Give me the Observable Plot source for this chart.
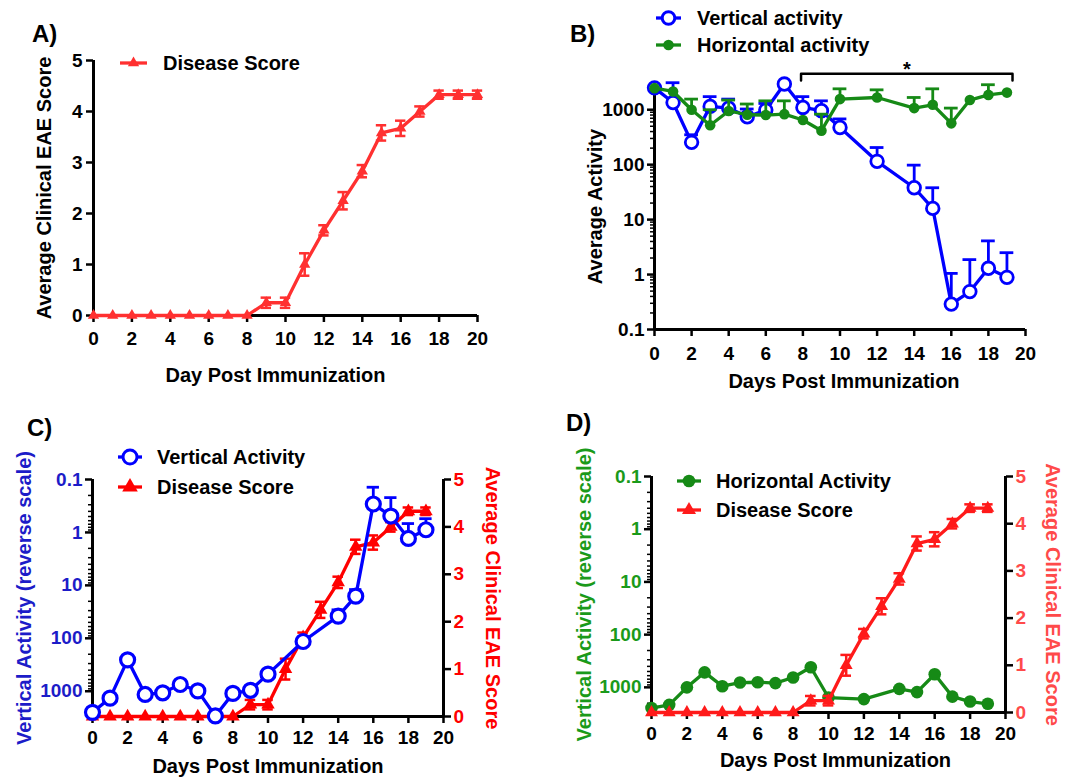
<!DOCTYPE html>
<html><head><meta charset="utf-8">
<script src="https://cdn.jsdelivr.net/npm/d3@7"></script>
<script src="https://cdn.jsdelivr.net/npm/@observablehq/plot@0.6"></script>
<style>
body{margin:0;background:#fff;}
#root{position:relative;width:1077px;height:778px;overflow:hidden;background:#fff;}
</style></head><body><div id="root"></div>
<script>
// ---------- data ----------
const scoreDays    = [0,1,2,3,4,5,6,7,8,9,10,11,12,13,14,15,16,17,18,19,20];
const diseaseScore = [0,0,0,0,0,0,0,0,0,0.25,0.25,1.0,1.67,2.25,2.83,3.58,3.67,4.0,4.33,4.33,4.33];
const diseaseSEM   = [0,0,0,0,0,0,0,0,0,0.1,0.1,0.22,0.1,0.17,0.12,0.15,0.15,0.1,0.08,0.08,0.08];

const actDays            = [0,1,2,3,4,5,6,7,8,9,10,12,14,15,16,17,18,19];
const verticalActivity   = [2500,1350,255,1150,1070,745,985,2930,1100,960,475,115,38,16,0.29,0.49,1.3,0.89];
const verticalErrTop     = [null,3100,350,1730,1560,1030,1300,null,1730,1450,680,205,98,38,1.05,1.87,4.1,2.5];
const verticalErrRev     = [null,null,null,null,null,null,null,null,null,null,null,null,29,12,0.14,0.22,0.68,0.55];
const horizontalActivity = [2470,2150,1000,520,950,810,800,830,650,415,1560,1670,1070,1230,565,1500,1860,2050];
const horizontalErrTop   = [null,null,1560,1000,1500,1270,1450,1450,null,830,2400,2300,1670,2400,1070,null,2850,null];

const xTicks     = [0,2,4,6,8,10,12,14,16,18,20];
const scoreTicks = [0,1,2,3,4,5];
const logTicks   = [0.1,1,10,100,1000];
const logMinor   = logTicks.flatMap(t => [2,3,4,5,6,7,8,9].map(k => +(t*k).toPrecision(3))).filter(v => v <= 3000);
const sigBracket = {start: 7.9, end: 19.3, top: 4500, drop: 3400, star: 5400, label: "*"};

// ---------- styles ----------
const FONT = '"Liberation Sans", Arial, Helvetica, sans-serif';
const RED_A = "#ff3030", RED = "#ff0000", RED_D = "#ff1a1a", RED_TXT_D = "#ff4a4a";
const BLUE = "#0000ff", BLUE_TXT = "#1c1cc8", GREEN = "#168a16", GREEN_TXT = "#1a9a1a";
const LW = 3.3;
const baseStyle = {fontFamily: FONT, fontWeight: "bold", fontSize: "19px", background: "none", overflow: "visible", color: "#000"};
const fmt = d => String(d);

const scoreRows = scoreDays.map((d, i) => ({day: d, v: diseaseScore[i], e: diseaseSEM[i]}));
const scoreRows19 = scoreRows.filter(d => d.day <= 19);
const actRows = actDays.map((d, i) => ({day: d, vert: verticalActivity[i], vTop: verticalErrTop[i], vRev: verticalErrRev[i],
  hor: horizontalActivity[i], hTop: horizontalErrTop[i]}));

const root = document.getElementById("root");
function place(node, left, top) {
  node.style.position = "absolute"; node.style.left = left + "px"; node.style.top = top + "px";
  root.appendChild(node);
}
function vTitle(text, side, dx, fill = "#000") {
  return Plot.text([text], {text: d => d, frameAnchor: side, dx, rotate: side === "left" ? -90 : 90,
    textAnchor: "middle", lineAnchor: "middle", fontSize: 20, fill});
}
function xTitle(text, dy, dx = 0) {
  return Plot.text([text], {text: d => d, frameAnchor: "bottom", dy, dx, textAnchor: "middle", lineAnchor: "middle", fontSize: 20});
}

function scoreMarks(rows, color, r, cap) {
  const err = rows.filter(d => d.e > 0);
  return [
    Plot.line(rows, {x: "day", y: "v", stroke: color, strokeWidth: LW}),
    Plot.ruleX(err, {x: "day", y1: d => d.v - d.e, y2: d => d.v + d.e, stroke: color, strokeWidth: 2.5}),
    Plot.ruleY(err, {y: d => d.v - d.e, x1: d => d.day - cap, x2: d => d.day + cap, stroke: color, strokeWidth: 2.5}),
    Plot.ruleY(err, {y: d => d.v + d.e, x1: d => d.day - cap, x2: d => d.day + cap, stroke: color, strokeWidth: 2.5}),
    Plot.dot(rows, {x: "day", y: "v", symbol: "triangle", r, fill: color, stroke: null})
  ];
}

// ---------- Panel A ----------
place(Plot.plot({
  width: 540, height: 390, marginLeft: 93, marginRight: 63, marginTop: 60, marginBottom: 75,
  style: baseStyle,
  x: {domain: [0, 20]}, y: {domain: [0, 5]},
  marks: [
    Plot.axisX({ticks: xTicks, tickFormat: fmt, tickSize: 7, tickPadding: 9, strokeWidth: 2.5, fontSize: 19, label: null}),
    Plot.axisY({ticks: scoreTicks, tickFormat: fmt, tickSize: 7, tickPadding: 4, strokeWidth: 2.5, fontSize: 19, label: null}),
    Plot.ruleX([0], {strokeWidth: 3}),
    Plot.ruleY([0], {strokeWidth: 3}),
    ...scoreMarks(scoreRows, RED_A, 4.2, 0.27),
    vTitle("Average Clinical EAE Score", "left", -49),
    xTitle("Day Post Immunization", 60, -10)
  ]
}), 0, 0);

// ---------- Panel B ----------
place(Plot.plot({
  width: 537, height: 390, marginLeft: 114, marginRight: 52, marginTop: 83, marginBottom: 61,
  style: baseStyle,
  x: {domain: [0, 20]}, y: {type: "log", domain: [0.1, 3000]},
  marks: [
    Plot.axisX({ticks: xTicks, tickFormat: fmt, tickSize: 7, tickPadding: 10, strokeWidth: 2.5, fontSize: 19, label: null}),
    Plot.axisY({ticks: logTicks, tickFormat: fmt, tickSize: 7, tickPadding: 3, strokeWidth: 2.5, fontSize: 19, label: null}),
    Plot.axisY({ticks: logMinor, tickFormat: () => "", tickSize: 4, strokeWidth: 1.5, label: null}),
    Plot.ruleX([0], {strokeWidth: 3}),
    Plot.ruleY([0.1], {strokeWidth: 3}),
    Plot.line([[sigBracket.start, sigBracket.drop], [sigBracket.start, sigBracket.top], [sigBracket.end, sigBracket.top], [sigBracket.end, sigBracket.drop]],
      {stroke: "#000", strokeWidth: 2.5}),
    Plot.text([sigBracket], {x: d => (d.start + d.end) / 2, y: "star", text: "label", fontSize: 20}),
    // vertical (blue)
    Plot.line(actRows, {x: "day", y: "vert", stroke: BLUE, strokeWidth: LW}),
    Plot.ruleX(actRows.filter(d => d.vTop), {x: "day", y1: "vert", y2: "vTop", stroke: BLUE, strokeWidth: 2.8}),
    Plot.ruleY(actRows.filter(d => d.vTop), {y: "vTop", x1: d => d.day - 0.37, x2: d => d.day + 0.37, stroke: BLUE, strokeWidth: 2.8}),
    Plot.dot(actRows, {x: "day", y: "vert", r: 6.3, fill: "white", stroke: BLUE, strokeWidth: 2.8}),
    // horizontal (green)
    Plot.line(actRows, {x: "day", y: "hor", stroke: GREEN, strokeWidth: LW}),
    Plot.ruleX(actRows.filter(d => d.hTop), {x: "day", y1: "hor", y2: "hTop", stroke: GREEN, strokeWidth: 2.8}),
    Plot.ruleY(actRows.filter(d => d.hTop), {y: "hTop", x1: d => d.day - 0.37, x2: d => d.day + 0.37, stroke: GREEN, strokeWidth: 2.8}),
    Plot.dot(actRows, {x: "day", y: "hor", r: 5.3, fill: GREEN, stroke: null}),
    vTitle("Average Activity", "left", -59),
    xTitle("Days Post Immunization", 52, 4)
  ]
}), 540, 0);

// ---------- Panel C (two overlaid layers) ----------
const C = {width: 540, height: 388, marginLeft: 92, marginRight: 97, marginTop: 89, marginBottom: 62};
place(Plot.plot({
  ...C, style: baseStyle,
  x: {domain: [0, 20]}, y: {domain: [0, 5]},
  marks: [
    Plot.axisX({ticks: xTicks, tickFormat: fmt, tickSize: 7, tickPadding: 7, strokeWidth: 2.5, fontSize: 19, label: null}),
    Plot.axisY({anchor: "right", ticks: scoreTicks, tickFormat: fmt, tickSize: 7, tickPadding: 3, strokeWidth: 2.5, fontSize: 19, fill: RED, stroke: "#000", label: null}),
    Plot.ruleX([20], {strokeWidth: 3}),
    Plot.ruleY([0], {strokeWidth: 3}),
    ...scoreMarks(scoreRows19, RED, 5, 0.3),
    vTitle("Average Clinical EAE Score", "right", 49, RED),
    xTitle("Days Post Immunization", 50)
  ]
}), 0, 390);
place(Plot.plot({
  ...C, style: baseStyle,
  x: {domain: [0, 20], axis: null}, y: {type: "log", domain: [0.1, 3000], reverse: true},
  marks: [
    Plot.axisY({ticks: logTicks, tickFormat: fmt, tickSize: 7, tickPadding: 3, strokeWidth: 2.5, fontSize: 19, fill: BLUE_TXT, stroke: "#000", label: null}),
    Plot.axisY({ticks: logMinor, tickFormat: () => "", tickSize: 4, strokeWidth: 1.5, label: null}),
    Plot.ruleX([0], {strokeWidth: 3}),
    Plot.line(actRows, {x: "day", y: "vert", stroke: BLUE, strokeWidth: LW}),
    Plot.ruleX(actRows.filter(d => d.vRev), {x: "day", y1: "vert", y2: "vRev", stroke: BLUE, strokeWidth: 2.8}),
    Plot.ruleY(actRows.filter(d => d.vRev), {y: "vRev", x1: d => d.day - 0.35, x2: d => d.day + 0.35, stroke: BLUE, strokeWidth: 2.8}),
    Plot.dot(actRows, {x: "day", y: "vert", r: 7, fill: "white", stroke: BLUE, strokeWidth: 3.2}),
    vTitle("Vertical Activity (reverse scale)", "left", -68, BLUE_TXT)
  ]
}), 0, 390);

// ---------- Panel D (two overlaid layers) ----------
const D = {width: 537, height: 388, marginLeft: 111, marginRight: 72, marginTop: 86, marginBottom: 66};
place(Plot.plot({
  ...D, style: baseStyle,
  x: {domain: [0, 20]}, y: {type: "log", domain: [0.1, 3000], reverse: true},
  marks: [
    Plot.axisX({ticks: xTicks, tickFormat: fmt, tickSize: 7, tickPadding: 7, strokeWidth: 2.5, fontSize: 19, label: null}),
    Plot.axisY({ticks: logTicks, tickFormat: fmt, tickSize: 7, tickPadding: 3, strokeWidth: 2.5, fontSize: 19, fill: GREEN_TXT, stroke: "#000", label: null}),
    Plot.axisY({ticks: logMinor, tickFormat: () => "", tickSize: 4, strokeWidth: 1.5, label: null}),
    Plot.ruleX([0], {strokeWidth: 3}),
    Plot.ruleY([3000], {strokeWidth: 3}),
    Plot.line(actRows, {x: "day", y: "hor", stroke: GREEN, strokeWidth: LW}),
    Plot.dot(actRows, {x: "day", y: "hor", r: 6.3, fill: GREEN, stroke: null}),
    vTitle("Vertical Activity (reverse scale)", "left", -67, GREEN_TXT),
    xTitle("Days Post Immunization", 48, 7)
  ]
}), 540, 390);
place(Plot.plot({
  ...D, style: baseStyle,
  x: {domain: [0, 20], axis: null}, y: {domain: [0, 5]},
  marks: [
    Plot.axisY({anchor: "right", ticks: scoreTicks, tickFormat: fmt, tickSize: 7, tickPadding: 3, strokeWidth: 2.5, fontSize: 19, fill: RED_TXT_D, stroke: "#000", label: null}),
    Plot.ruleX([20], {strokeWidth: 3}),
    ...scoreMarks(scoreRows19, RED_D, 4.8, 0.3),
    vTitle("Average Clinical EAE Score", "right", 47, RED_TXT_D)
  ]
}), 540, 390);

// ---------- legends & panel labels (overlay) ----------
const ov = d3.create("svg").attr("width", 1077).attr("height", 778)
  .style("position", "absolute").style("left", "0px").style("top", "0px")
  .style("font-family", FONT).style("font-weight", "bold");
const panelLabels = [["A)", 32, 42], ["B)", 570, 42], ["C)", 27, 436], ["D)", 566, 431]];
for (const [t, x, y] of panelLabels) ov.append("text").attr("x", x).attr("y", y).attr("font-size", 24).text(t);

const legendItems = [
  {x1: 120, x2: 147, y: 63, tx: 163, color: RED_A, sym: "tri", size: 4.2, label: "Disease Score"},
  {x1: 656, x2: 681, y: 18, tx: 697, color: BLUE, sym: "open", size: 6.3, label: "Vertical activity"},
  {x1: 656, x2: 681, y: 45, tx: 697, color: GREEN, sym: "dot", size: 5.3, label: "Horizontal activity"},
  {x1: 118, x2: 142, y: 457, tx: 157, color: BLUE, sym: "open", size: 7, label: "Vertical Activity"},
  {x1: 118, x2: 142, y: 487, tx: 157, color: RED, sym: "tri", size: 5.8, label: "Disease Score"},
  {x1: 677, x2: 701, y: 481, tx: 716, color: GREEN, sym: "dot", size: 6.3, label: "Horizontal Activity"},
  {x1: 677, x2: 701, y: 510, tx: 716, color: RED_D, sym: "tri", size: 5.2, label: "Disease Score"}
];
for (const L of legendItems) {
  const cx = (L.x1 + L.x2) / 2;
  ov.append("line").attr("x1", L.x1).attr("x2", L.x2).attr("y1", L.y).attr("y2", L.y).attr("stroke", L.color).attr("stroke-width", LW);
  if (L.sym === "tri") ov.append("path").attr("d", d3.symbol(d3.symbolTriangle, Math.PI * L.size * L.size)()).attr("transform", `translate(${cx},${L.y})`).attr("fill", L.color);
  else if (L.sym === "open") ov.append("circle").attr("cx", cx).attr("cy", L.y).attr("r", L.size).attr("fill", "white").attr("stroke", L.color).attr("stroke-width", 3);
  else ov.append("circle").attr("cx", cx).attr("cy", L.y).attr("r", L.size).attr("fill", L.color);
  ov.append("text").attr("x", L.tx).attr("y", L.y).attr("dy", "0.36em").attr("font-size", 20).text(L.label);
}
root.appendChild(ov.node());
</script></body></html>
